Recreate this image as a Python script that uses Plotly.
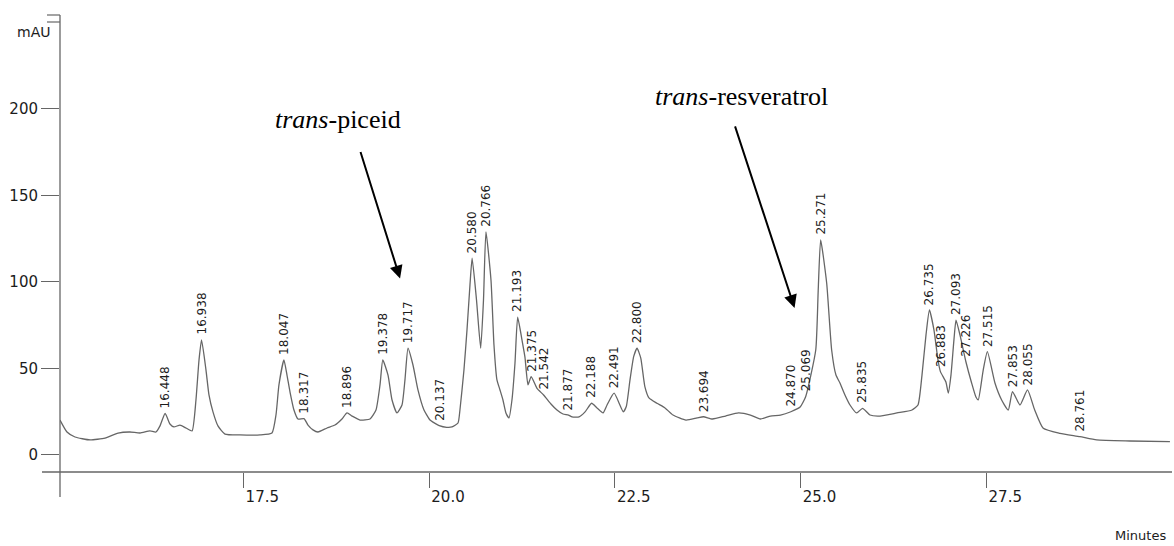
import plotly.graph_objects as go

# Chromatogram trace: retention time (min) and absorbance (mAU) along baseline and peak flanks
time_min = [
    15.033, 15.127, 15.235, 15.437, 15.639, 15.814, 15.975, 16.110, 16.244, 16.325, 16.379,
    16.513, 16.567, 16.648, 16.729, 16.810, 16.863, 16.904,
    16.998, 17.038, 17.092, 17.159, 17.254, 17.456, 17.725, 17.886, 17.940, 17.980,
    18.088, 18.129, 18.182, 18.236,
    18.371, 18.438, 18.505, 18.627, 18.734, 18.828,
    18.963, 19.071, 19.206, 19.286, 19.340,
    19.448, 19.502, 19.569, 19.636, 19.676,
    19.784, 19.851, 19.932, 20.013, 20.053,
    20.238, 20.309, 20.390, 20.416, 20.470, 20.511, 20.551,
    20.639, 20.695, 20.733,
    20.834, 20.874, 20.914, 20.955, 20.995, 21.035, 21.076, 21.116, 21.157,
    21.251, 21.291, 21.332,
    21.453,
    21.641, 21.722, 21.803,
    21.925, 22.019, 22.100,
    22.261, 22.342, 22.396,
    22.615, 22.655, 22.705, 22.755,
    22.850, 22.905, 22.960, 23.068, 23.176, 23.284, 23.459, 23.607,
    23.815, 23.990, 24.165, 24.326, 24.461, 24.595, 24.730,
    24.995,
    25.205, 25.238,
    25.352, 25.419, 25.477, 25.531, 25.598, 25.666, 25.756,
    25.935, 26.070, 26.298, 26.500, 26.581, 26.635, 26.689,
    26.796, 26.850,
    26.957, 26.989, 27.025, 27.065,
    27.146,
    27.303, 27.361, 27.392, 27.459,
    27.617, 27.707, 27.796,
    27.954,
    28.152, 28.267, 28.492,
    28.986, 29.434, 29.972,
]
signal_mau = [
    20.2, 13.3, 10.4, 8.7, 9.8, 12.7, 13.3, 12.7, 13.9, 13.3, 16.8,
    17.9, 16.2, 17.3, 15.6, 13.9, 31.8, 54.9,
    49.1, 34.7, 24.9, 16.8, 12.1, 11.6, 11.6, 12.7, 23.1, 40.5,
    46.2, 36.4, 26.0, 20.8,
    17.3, 14.5, 13.3, 15.6, 17.3, 20.8,
    22.5, 20.2, 20.8, 26.0, 40.5,
    46.2, 31.8, 24.3, 28.9, 43.4,
    52.0, 37.6, 26.0, 20.2, 19.0,
    16.0, 16.2, 18.5, 26.0, 49.1, 72.3, 98.3,
    89.6, 61.7, 89.6,
    101.0, 63.6, 43.4, 37.6, 31.8, 24.3, 21.4, 31.8, 53.2,
    66.5, 56.6, 40.5,
    38.5,
    29.5, 26.0, 23.7,
    22.0, 22.0, 24.9,
    27.2, 24.3, 28.9,
    25.0, 28.0, 43.4, 57.0,
    56.0, 39.5, 33.0, 29.9, 27.2, 23.1, 20.2, 21.4,
    20.8, 22.5, 24.3, 23.1, 20.8, 22.5, 23.1,
    27.7,
    60.7, 95.0,
    99.4, 60.7, 46.2, 41.6, 34.7, 28.9, 24.3,
    23.1, 22.5, 24.3, 26.0, 28.9, 46.2, 69.4,
    72.3, 54.9,
    42.2, 35.8, 46.2, 66.5,
    69.4,
    41.6, 33.5, 31.8, 49.1,
    41.6, 31.8, 26.0,
    28.9,
    26.0, 15.4, 12.5,
    8.7, 8.1, 7.7,
]

# Integrated peaks: retention time and apex height
peak_rt = [16.448, 16.938, 18.047, 18.317, 18.896, 19.378, 19.717, 20.137, 20.580, 20.766,
           21.193, 21.375, 21.542, 21.877, 22.188, 22.491, 22.800, 23.694, 24.870, 25.069,
           25.271, 25.835, 26.735, 26.883, 27.093, 27.226, 27.515, 27.853, 28.055, 28.761]
peak_mau = [24.1, 66.5, 54.9, 21.0, 24.3, 54.9, 61.7, 17.0, 113.7, 129.0,
            79.6, 45.3, 34.7, 23.1, 29.9, 35.7, 61.7, 22.1, 25.0, 33.7,
            124.3, 27.0, 83.8, 48.2, 78.0, 53.9, 59.7, 36.6, 37.6, 10.6]

x_ticks = [17.5, 20.0, 22.5, 25.0, 27.5]
x_tick_text = ["17.5", "20.0", "22.5", "25.0", "27.5"]
y_ticks = [0, 50, 100, 150, 200]
y_tick_text = ["0", "50", "100", "150", "200"]

# Compound annotations: (label, arrow tip time, arrow tip mAU)
compounds = [
    ("<i>trans</i>-piceid", 19.61, 102.0),
    ("<i>trans</i>-resveratrol", 24.92, 85.0),
]

W, H = 1174, 546
M_L, M_R, M_T, M_B = 60, 2, 15, 74
X_RANGE = [15.033, 30.0]
Y_RANGE = [-9.83, 254.3]
PW, PH = W - M_L - M_R, H - M_T - M_B


def px(xp):
    return (xp - M_L) / PW


def py(yp):
    return (H - M_B - yp) / PH


pts = sorted(zip(time_min + peak_rt, signal_mau + peak_mau))
fig = go.Figure()
fig.add_trace(go.Scatter(
    x=[p[0] for p in pts], y=[p[1] for p in pts], mode="lines",
    line=dict(color="#666666", width=1.3, shape="spline", smoothing=0.5),
    hoverinfo="skip",
))

text_col = "#1c1c1c"
axis_font = dict(family="DejaVu Sans", size=15, color=text_col)
annotations = []
for rt, h in zip(peak_rt, peak_mau):
    annotations.append(dict(
        x=rt, y=h, text=f"{rt:.3f}", textangle=-90, showarrow=False,
        xanchor="center", yanchor="bottom", yshift=3,
        font=dict(family="DejaVu Sans", size=12, color=text_col),
    ))

text_pos = {"<i>trans</i>-piceid": (338, 120), "<i>trans</i>-resveratrol": (741, 96)}
tail_off = {"<i>trans</i>-piceid": (-40, -128), "<i>trans</i>-resveratrol": (-60, -183)}
for name, tx, ty in compounds:
    cx, cy = text_pos[name]
    annotations.append(dict(
        x=px(cx), y=py(cy), xref="paper", yref="paper", text=name, showarrow=False,
        xanchor="center", yanchor="middle",
        font=dict(family="Liberation Serif", size=26, color="black"),
    ))
    ax, ay = tail_off[name]
    annotations.append(dict(
        x=tx, y=ty, text="", showarrow=True, ax=ax, ay=ay,
        arrowhead=2, arrowsize=1.3, arrowwidth=2, arrowcolor="black",
    ))

annotations.append(dict(x=px(33), y=py(32), xref="paper", yref="paper", text="mAU",
                        showarrow=False, xanchor="center", yanchor="middle",
                        font=dict(family="DejaVu Sans", size=14, color=text_col)))
annotations.append(dict(x=px(1168), y=py(535), xref="paper", yref="paper", text="Minutes",
                        showarrow=False, xanchor="right", yanchor="middle",
                        font=dict(family="DejaVu Sans", size=13, color=text_col)))

line_col = "#666666"
shapes = [
    # y axis continues below the time axis
    dict(type="line", xref="paper", yref="paper", x0=0, x1=0, y0=py(497), y1=py(15),
         line=dict(color=line_col, width=1.3)),
    # time axis continues left of the y axis
    dict(type="line", xref="paper", yref="paper", x0=px(42), x1=1, y0=0, y1=0,
         line=dict(color=line_col, width=1.3)),
    # cap at the top of the y axis
    dict(type="line", xref="paper", yref="paper", x0=px(47), x1=0, y0=py(15), y1=py(15),
         line=dict(color=line_col, width=1.2)),
    dict(type="line", xref="paper", yref="paper", x0=px(47), x1=0, y0=py(22), y1=py(22),
         line=dict(color=line_col, width=1.2)),
]

fig.update_layout(
    width=W, height=H, margin=dict(l=M_L, r=M_R, t=M_T, b=M_B),
    plot_bgcolor="white", paper_bgcolor="white", showlegend=False,
    annotations=annotations, shapes=shapes,
    xaxis=dict(range=X_RANGE, showgrid=False, zeroline=False, showline=False,
               ticks="outside", ticklen=15, tickwidth=1.2, tickcolor=line_col,
               tickvals=x_ticks, ticktext=x_tick_text, tickfont=axis_font,
               ticklabelshift=19, ticklabelstandoff=-4),
    yaxis=dict(range=Y_RANGE, showgrid=False, zeroline=False, showline=False,
               ticks="outside", ticklen=18, tickwidth=1.2, tickcolor=line_col,
               tickvals=y_ticks, ticktext=y_tick_text, tickfont=axis_font),
)

fig.write_html("out.html")
